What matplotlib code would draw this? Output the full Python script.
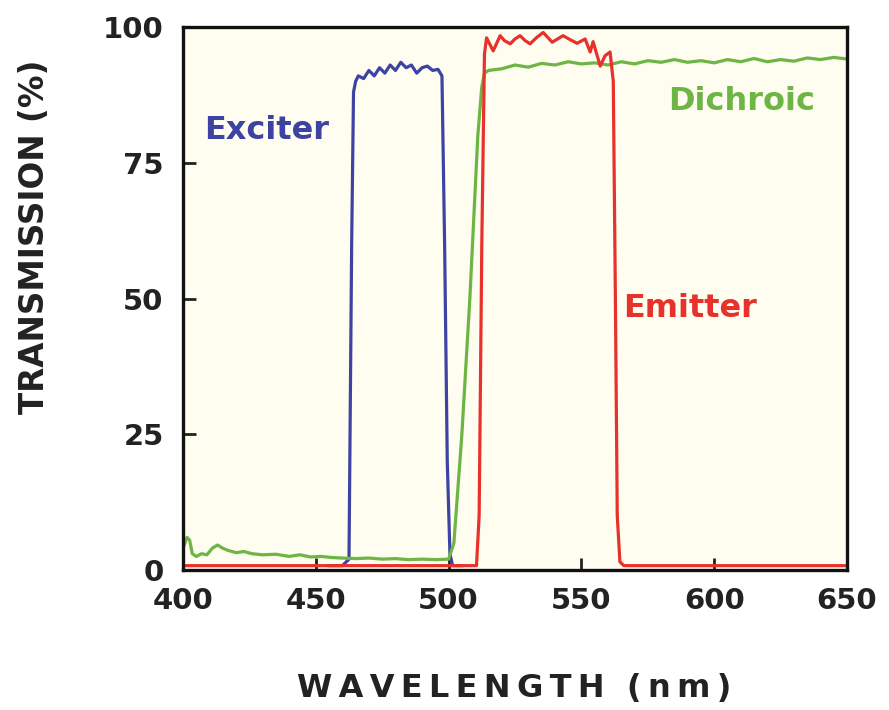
import numpy as np
import matplotlib
matplotlib.use('Agg')
from matplotlib import pyplot as plt

# exciter filter (blue)
ex_wl = [455, 460, 462.5, 463.5, 464.2, 465, 466, 468, 470, 472, 474, 476, 478, 480, 482, 484,
         486, 488, 490, 492, 494, 496, 497.5, 498.5, 499.5, 500.5, 501.5, 505]
ex_t = [0.8, 0.8, 2, 60, 88, 90, 91, 90.5, 92, 91, 92.5, 91.5, 93, 92, 93.5, 92.5,
        93, 91.5, 92.5, 92.8, 92, 92.2, 91, 60, 20, 3, 0.8, 0.8]

# dichroic mirror (green)
di_wl = [400, 401.5, 402.5, 403.5, 405, 407, 409, 411, 413, 415, 417, 420, 423, 426, 430,
         435, 440, 444, 448, 452, 456, 460, 465, 470, 475, 480, 485, 490, 495, 500,
         502, 505, 508, 511, 512.5, 513.5, 515, 520, 525, 530, 535, 540, 545, 550,
         555, 560, 565, 570, 575, 580, 585, 590, 595, 600, 605, 610, 615, 620, 625, 630,
         635, 640, 645, 650]
di_t = [4, 6, 5.5, 3, 2.5, 3, 2.8, 4, 4.6, 4, 3.6, 3.2, 3.4, 3, 2.8,
        2.9, 2.5, 2.8, 2.4, 2.5, 2.3, 2.2, 2.1, 2.2, 2.0, 2.1, 1.9, 2.0, 1.9, 2.0,
        5, 25, 50, 80, 89, 91.5, 92, 92.3, 93, 92.6, 93.3, 93, 93.6, 93.2,
        93.4, 93, 93.6, 93.2, 93.8, 93.5, 94, 93.5, 93.8, 93.4, 94, 93.6, 94.2, 93.6, 94, 93.7,
        94.3, 94, 94.4, 94.1]

# emitter filter (red)
em_wl = [400, 510.5, 511.5, 512.5, 513.5, 514.3, 516.8, 519.4, 521, 523.2, 525, 526.9, 528.8,
         530.7, 533, 535.6, 539, 543.1, 546, 548.4, 551.4, 553.3, 554.4, 557.1, 558.9,
         560.8, 562, 562.8, 563.5, 564.5, 566, 650]
em_t = [0.8, 0.8, 10, 60, 95, 98, 95.6, 98.4, 97.5, 96.9, 97.8, 98.4, 97.5,
        96.9, 98, 99, 97.2, 98.4, 97.6, 97, 97.8, 95.4, 97.3, 92.8, 94.7,
        95.4, 90, 50, 10, 1.5, 0.8, 0.8]

blue = '#3d43a3'
green = '#6db544'
red = '#e6322b'

fig = plt.figure(figsize=(8.89, 7.10), dpi=100)
ax = fig.add_axes([183/889, 1-570/710, (847-183)/889, (570-27)/710])
ax.set_facecolor('#fffcf0')

ax.plot(ex_wl, ex_t, color=blue, lw=2.3)
ax.plot(di_wl, di_t, color=green, lw=2.3)
ax.plot(em_wl, em_t, color=red, lw=2.3)

ax.set_xlim(400, 650)
ax.set_ylim(0, 100)
ax.set_xticks([400, 450, 500, 550, 600, 650])
ax.set_yticks([0, 25, 50, 75, 100])
ax.tick_params(direction='in', length=9, width=2, labelsize=21, colors='#222222')
ax.tick_params(axis='x', pad=12)
ax.tick_params(axis='y', pad=14)
for lab in ax.get_xticklabels() + ax.get_yticklabels():
    lab.set_fontweight('bold')
for s in ax.spines.values():
    s.set_linewidth(2.4)
    s.set_color('#111111')

ax.text(431.3, 80.9, 'Exciter', color=blue, fontsize=23, fontweight='bold', ha='center', va='center')
ax.text(610.2, 86.3, 'Dichroic', color=green, fontsize=23, fontweight='bold', ha='center', va='center')
ax.text(591, 48.1, 'Emitter', color=red, fontsize=23, fontweight='bold', ha='center', va='center')

ts = '\u2009'
fig.text(35/889, 1-237/710, 'TRANSMISSION (%)',
         rotation=90, ha='center', va='center', fontsize=23.5, fontweight='bold', color='#222222')
fig.text(514/889, 1-688/710, ts.join('WAVELENGTH') + '  ' + ts.join('(nm)'),
         ha='center', va='center', fontsize=23, fontweight='bold', color='#222222')

fig.savefig('out.png', dpi=100)
